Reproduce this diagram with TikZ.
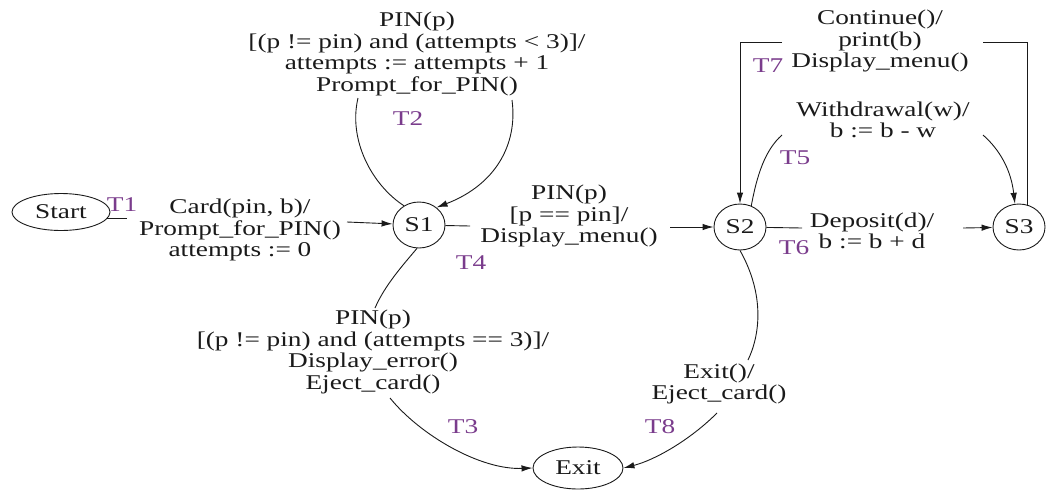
\documentclass[tikz,border=0pt]{standalone}
\usepackage{fontspec}
\setmainfont[FakeStretch=1.3]{Liberation Serif}
\usetikzlibrary{arrows.meta,shapes.geometric}
\definecolor{ink}{HTML}{1A1A1A}
\definecolor{tnC}{HTML}{7A3C8C}
\tikzset{
  >={Latex[length=11pt,width=6.5pt]},
  state/.style={draw=ink,ellipse,line width=0.9pt,minimum width=52pt,
    minimum height=46pt,inner sep=0pt,text=ink},
  trig/.style={align=center,inner sep=1pt,text=ink},
  tname/.style={text=tnC,inner sep=0pt},
  trans/.style={draw=ink,line width=0.9pt},
}

\begin{document}
\begin{tikzpicture}[x=1pt,y=-1pt,font=\fontsize{21}{21.5}\selectfont]
\useasboundingbox (0,0) rectangle (1048,496);

% ================= STATES =================
\node[state,minimum width=98pt,minimum height=37pt] (start) at (61,212) {Start};
\node[state] (s1) at (419,225) {S1};
\node[state] (s2) at (740,227) {S2};
\node[state] (s3) at (1019,227) {S3};
\node[state,minimum width=90pt,minimum height=42pt] (exit) at (578,468) {Exit};

% ================= TRIGGERS =================
\node[trig] (t1lab) at (240,230) {Card(pin, b)/\\Prompt\_for\_PIN()\\attempts := 0};
\node[trig] (t2lab) at (417,54) {PIN(p)\\{[}(p != pin) and (attempts < 3)]/\\attempts := attempts + 1\\Prompt\_for\_PIN()};
\node[trig] (t3lab) at (373,352) {PIN(p)\\{[}(p != pin) and (attempts == 3)]/\\Display\_error()\\Eject\_card()};
\node[trig] (t4lab) at (569,216) {PIN(p)\\{[}p == pin]/\\Display\_menu()};
\node[trig] (t5lab) at (883,120) {Withdrawal(w)/\\b := b - w};
\node[trig] (t6lab) at (872,231) {Deposit(d)/\\b := b + d};
\node[trig] (t7lab) at (880,41) {Continue()/\\print(b)\\Display\_menu()};
\node[trig] (t8lab) at (719,384) {Exit()/\\Eject\_card()};

\node[tname] (t1) at (122,205) {T1};
\node[tname] (t2) at (408,119) {T2};
\node[tname] (t3) at (463,427) {T3};
\node[tname] (t4) at (471,263) {T4};
\node[tname] (t5) at (795,158) {T5};
\node[tname] (t6) at (794,248) {T6};
\node[tname] (t7) at (768,66) {T7};
\node[tname] (t8) at (660,427) {T8};

% ================= TRANSITIONS =================
\coordinate (t1a) at ([xshift=20pt]start.-8); \coordinate (t1b) at (347,222);
\coordinate (t2a) at (358,98);  \coordinate (t2b) at (512,100);
\coordinate (t3a) at (375,308); \coordinate (t3b) at (390,398);
\coordinate (t4a) at (470,226); \coordinate (t4b) at (670,227);
\coordinate (t5a) at (782,135); \coordinate (t5b) at (983,135);
\coordinate (t6a) at (802,228); \coordinate (t6b) at (963,228);
\coordinate (t7a) at (782,42);  \coordinate (t7b) at (983,42);
\coordinate (t8a) at (748,360); \coordinate (t8b) at (717,413);

\draw[trans] (start.-8) -- (t1a);
\draw[trans,->] (t1b) -- (s1);
\draw[trans] (s1.128) .. controls (372,185) and (348,140) .. (t2a);
\draw[trans,->] (t2b) .. controls (518,145) and (495,185) .. (s1.45);
\draw[trans] (s1.265) .. controls (403,265) and (385,285) .. (t3a);
\draw[trans,->] (t3b) .. controls (420,435) and (480,470) .. (exit.west);
\draw[trans] (s1) -- (t4a);
\draw[trans,->] (t4b) -- (s2);
\draw[trans] (s2.62) .. controls (757,175) and (765,150) .. (t5a);
\draw[trans,->] (t5b) .. controls (1000,150) and (1011,170) .. (s3.100);
\draw[trans] (s2) -- (t6a);
\draw[trans,->] (t6b) -- (s3);
\draw[trans] (s3.70) |- (t7b);
\draw[trans,->] (t7a) -| (s2.north);
\draw[trans] (s2.south) .. controls (765,295) and (760,335) .. (t8a);
\draw[trans,->] (t8b) .. controls (690,440) and (655,460) .. (exit.east);

\end{tikzpicture}
\end{document}
